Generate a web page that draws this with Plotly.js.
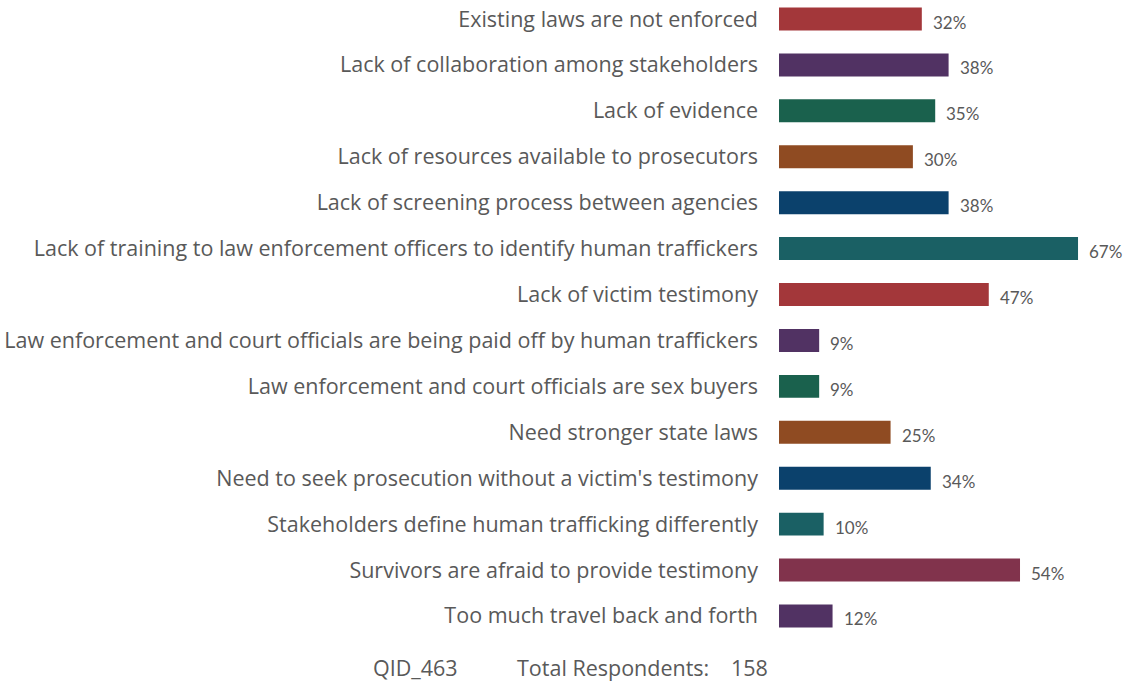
<!DOCTYPE html>
<html>
<head>
<meta charset="utf-8">
<script src="https://cdn.plot.ly/plotly-3.0.1.min.js"></script>
<style>html,body{margin:0;padding:0;background:#fff;}#chart{width:1124px;height:683px;}</style>
</head>
<body>
<div id="chart"></div>
<script>
const categories = [
  "Existing laws are not enforced",
  "Lack of collaboration among stakeholders",
  "Lack of evidence",
  "Lack of resources available to prosecutors",
  "Lack of screening process between agencies",
  "Lack of training to law enforcement officers to identify human traffickers",
  "Lack of victim testimony",
  "Law enforcement and court officials are being paid off by human traffickers",
  "Law enforcement and court officials are sex buyers",
  "Need stronger state laws",
  "Need to seek prosecution without a victim's testimony",
  "Stakeholders define human trafficking differently",
  "Survivors are afraid to provide testimony",
  "Too much travel back and forth"
];
const values = [32, 38, 35, 30, 38, 67, 47, 9, 9, 25, 34, 10, 54, 12];
const barColors = ["#A3373A", "#513263", "#1A614D", "#8F4B22", "#0B416C", "#1A6064", "#A3373A",
                   "#513263", "#1A614D", "#8F4B22", "#0B416C", "#1A6064", "#81334C", "#513263"];
const footerQid = "QID_463";
const footerLabel = "Total Respondents:";
const footerCount = "158";

const labelFont = {family: "'Open Sans', sans-serif", size: 21.5, color: "#595959"};
const footFont = {family: "'Open Sans', sans-serif", size: 21.5, color: "#595959"};

const trace = {
  type: "bar",
  orientation: "h",
  y: categories,
  x: values,
  marker: {color: barColors},
  hoverinfo: "none"
};

const annotations = categories.map((c, i) => ({
  x: values[i], y: c, xref: "x", yref: "y",
  text: values[i] + "%", showarrow: false,
  xanchor: "left", yanchor: "middle", xshift: 9, yshift: -3,
  font: {family: "Lato, 'Open Sans', sans-serif", size: 17, color: "#595959"}
}));
annotations.push(
  {xref: "paper", yref: "paper", x: -1.182, y: -0.012, xanchor: "left", yanchor: "top", showarrow: false, text: footerQid, font: footFont},
  {xref: "paper", yref: "paper", x: -0.765, y: -0.012, xanchor: "left", yanchor: "top", showarrow: false, text: footerLabel, font: footFont},
  {xref: "paper", yref: "paper", x: -0.026, y: -0.012, xanchor: "right", yanchor: "top", showarrow: false, text: footerCount, font: footFont}
);

const layout = {
  width: 1124, height: 683,
  margin: {l: 779, r: 0, t: 0, b: 40, pad: 0},
  paper_bgcolor: "#ffffff", plot_bgcolor: "#ffffff",
  showlegend: false,
  bargap: 0.5,
  xaxis: {range: [0, 77.3], showgrid: false, zeroline: false, showticklabels: false, showline: false, fixedrange: true},
  yaxis: {type: "category", range: [13.589, -0.414], showgrid: false, zeroline: false, showline: false,
          ticks: "", ticklabelstandoff: 20, tickfont: labelFont, automargin: false, fixedrange: true},
  annotations: annotations
};

Plotly.newPlot("chart", [trace], layout, {displayModeBar: false, staticPlot: true});
</script>
</body>
</html>
